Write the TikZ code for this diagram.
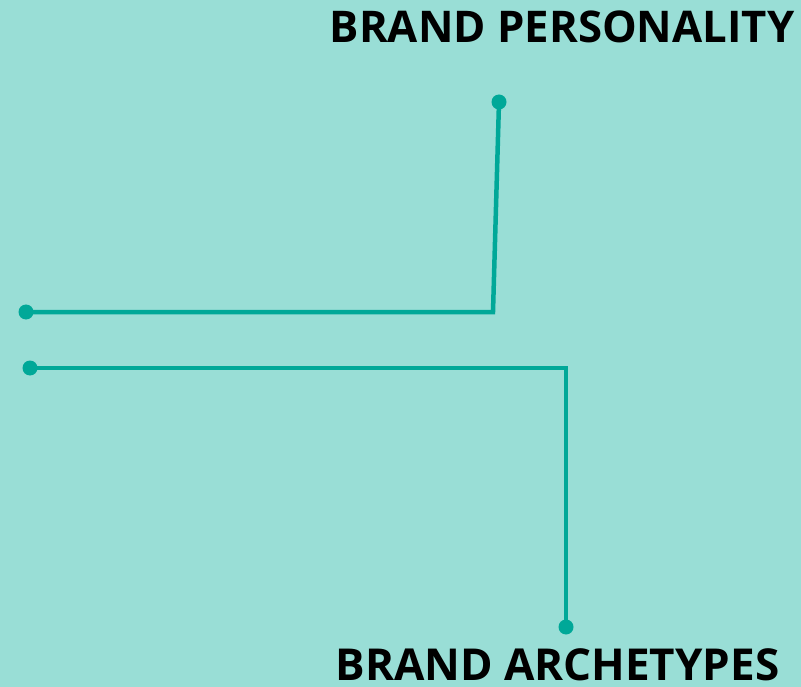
\documentclass[tikz,border=0pt]{standalone}
\usepackage{fontspec}
\setmainfont{Open Sans}
\definecolor{bgc}{RGB}{153,222,214}
\definecolor{linec}{RGB}{0,168,152}
\begin{document}
\begin{tikzpicture}[x=1pt,y=-1pt,
  conn/.style={draw=linec,line width=4.5pt},
  dotn/.style={circle,fill=linec,inner sep=0pt,minimum size=15pt},
  title/.style={inner sep=0pt,anchor=base,text=black}]
\fill[bgc] (0,0) rectangle (801,687);
\useasboundingbox (0,0) rectangle (801,687);
\node[title,font=\fontsize{43.7}{50}\selectfont\bfseries] (t1) at (562,42.5) {BRAND PERSONALITY};
\node[title,font=\fontsize{44}{50}\selectfont\bfseries] (t2) at (557.5,680) {BRAND ARCHETYPES};
\node[dotn] (d1) at (499,102) {};
\coordinate (c1) at (493,312);
\node[dotn] (d2) at (26,312) {};
\node[dotn] (d3) at (30,368) {};
\coordinate (c2) at (566,368);
\node[dotn] (d4) at (566,627) {};
\draw[conn] (d1.center) -- (c1) -- (d2.center);
\draw[conn] (d3.center) -- (c2) -- (d4.center);
\end{tikzpicture}
\end{document}
